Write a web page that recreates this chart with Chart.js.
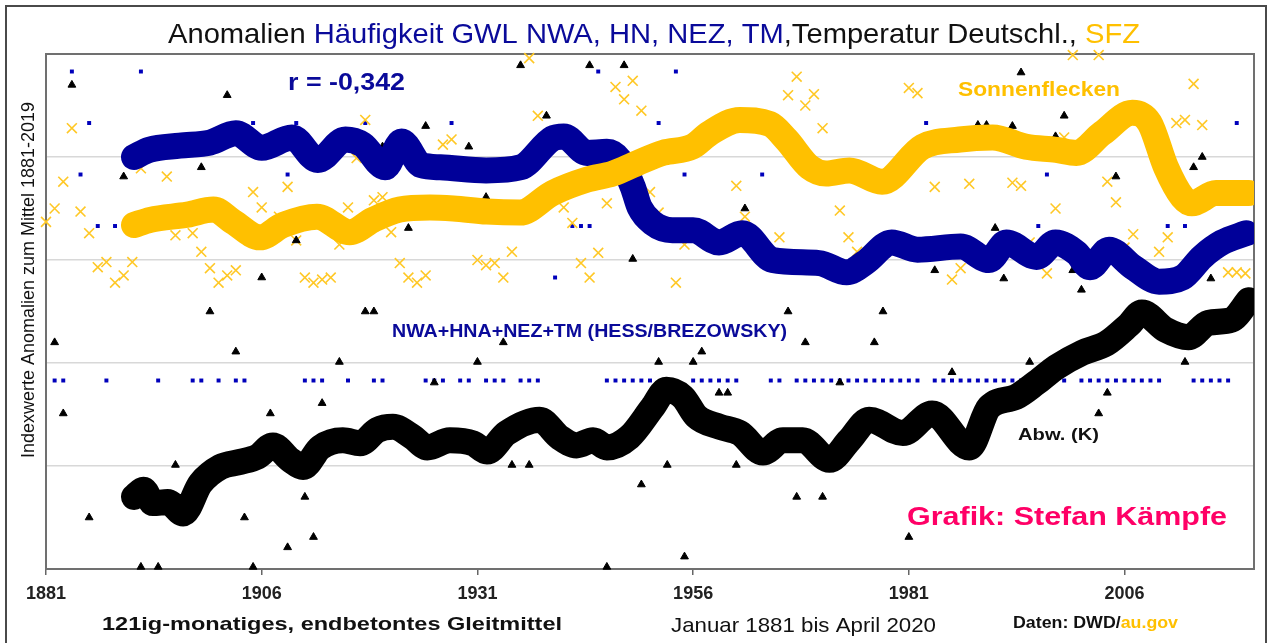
<!DOCTYPE html>
<html>
<head>
<meta charset="utf-8">
<title>Anomalien GWL, Temperatur, SFZ</title>
<script src="https://cdn.jsdelivr.net/npm/chart.js@4.4.1/dist/chart.umd.min.js"></script>
<style>
  html, body { margin: 0; padding: 0; background: #fff; }
</style>
</head>
<body>
<canvas id="grafik" width="1281" height="643"></canvas>
<script>
const schrift = '"Liberation Sans", Arial, sans-serif';

// x-Achse: Jahre
const tickJahre = [1881, 1906, 1931, 1956, 1981, 2006];

// 121-monatiges Gleitmittel Haeufigkeit NWA+HNA+NEZ+TM (blau)
const gwlMittelJahr = [1891.2, 1893, 1896.5, 1900, 1903, 1906, 1909.5, 1912.5, 1915.7, 1917.7, 1920.3, 1922.2, 1924.5, 1926.7, 1932, 1936, 1939.7, 1941, 1943.7, 1946, 1947.5, 1949, 1949.8, 1951.3, 1953.6, 1956, 1959, 1961.7, 1965.2, 1970.6, 1973.8, 1976, 1979, 1982, 1987, 1990.3, 1992.3, 1995.8, 1998, 2000.4, 2002, 2004.2, 2007, 2010, 2012.7, 2015, 2017.3, 2020.1];
const gwlMittel = [2.00, 2.07, 2.11, 2.14, 2.23, 2.09, 2.19, 1.97, 2.17, 2.12, 1.90, 2.15, 1.92, 1.90, 1.87, 1.90, 2.18, 2.20, 2.04, 2.05, 1.97, 1.71, 1.51, 1.36, 1.29, 1.29, 1.17, 1.26, 1.00, 0.97, 0.88, 0.98, 1.17, 1.10, 1.13, 1.00, 1.17, 1.03, 1.17, 1.07, 0.93, 1.10, 0.93, 0.79, 0.83, 1.03, 1.17, 1.26];

// 121-monatiges Gleitmittel Sonnenfleckenzahl (orange)
const sfzMittelJahr = [1891.2, 1893.1, 1897.4, 1900.4, 1902.7, 1905.8, 1908.5, 1912.4, 1916.2, 1918.9, 1922, 1925.5, 1928.2, 1932.1, 1935.9, 1939.7, 1943.7, 1946.7, 1949.5, 1952.5, 1955.9, 1957.9, 1961.4, 1964.9, 1966.8, 1969.5, 1971.4, 1974.1, 1977.9, 1982.6, 1986.9, 1990.7, 1994.6, 1998.1, 2000.4, 2003.4, 2006.9, 2008.9, 2010.8, 2012.7, 2013.8, 2016.6, 2020.4];
const sfzMittel = [1.34, 1.39, 1.44, 1.49, 1.37, 1.22, 1.34, 1.42, 1.27, 1.39, 1.49, 1.51, 1.50, 1.47, 1.46, 1.65, 1.78, 1.84, 1.94, 2.04, 2.10, 2.23, 2.36, 2.32, 2.17, 1.90, 1.84, 1.87, 1.76, 2.10, 2.17, 2.19, 2.10, 2.07, 2.04, 2.23, 2.43, 2.33, 1.90, 1.61, 1.55, 1.65, 1.65];

// 121-monatiges Gleitmittel Temperaturabweichung Deutschland (schwarz)
const tempMittelJahr = [1891.2, 1892.3, 1893.4, 1895.1, 1896.9, 1898.9, 1901.2, 1903.5, 1905.5, 1907.3, 1909.3, 1910.8, 1912.8, 1915.4, 1917.4, 1919.4, 1921.2, 1923.5, 1925.2, 1927.8, 1930.5, 1932.1, 1934.4, 1938.2, 1940.5, 1942.5, 1944.4, 1946, 1948.6, 1951.3, 1952.9, 1954.8, 1956.4, 1959.1, 1961.4, 1964.1, 1966.4, 1968.7, 1971.8, 1974.1, 1976.4, 1980.3, 1983.7, 1988, 1990.3, 1993.4, 1995.8, 1998.1, 2001.1, 2003.9, 2006.5, 2008, 2010.8, 2013.4, 2015.7, 2018.4, 2020.4];
const tempMittel = [-1.30, -1.23, -1.36, -1.35, -1.46, -1.17, -1.01, -0.96, -0.91, -0.80, -0.94, -1.01, -0.82, -0.75, -0.78, -0.65, -0.62, -0.72, -0.82, -0.75, -0.78, -0.86, -0.68, -0.55, -0.72, -0.80, -0.75, -0.82, -0.72, -0.43, -0.26, -0.33, -0.52, -0.62, -0.68, -0.87, -0.75, -0.75, -0.94, -0.75, -0.55, -0.68, -0.49, -0.82, -0.43, -0.33, -0.19, -0.04, 0.10, 0.19, 0.37, 0.49, 0.32, 0.25, 0.39, 0.42, 0.61];

// Jahreswerte Haeufigkeit GWL (blaue Punkte)
const gwlJahr = [1882, 1883, 1884, 1885, 1886, 1887, 1888, 1889, 1892, 1894, 1898, 1899, 1901, 1903, 1904, 1905, 1909, 1910, 1911, 1912, 1913, 1916, 1918, 1919, 1920, 1925, 1926, 1927, 1928, 1929, 1930, 1932, 1933, 1934, 1936, 1937, 1938, 1940, 1942, 1943, 1944, 1945, 1946, 1947, 1948, 1949, 1950, 1951, 1952, 1954, 1955, 1956, 1957, 1958, 1959, 1960, 1961, 1964, 1965, 1966, 1968, 1969, 1970, 1971, 1972, 1973, 1974, 1975, 1976, 1977, 1978, 1979, 1980, 1981, 1982, 1983, 1984, 1985, 1986, 1987, 1988, 1989, 1990, 1991, 1992, 1993, 1994, 1996, 1997, 1999, 2001, 2002, 2003, 2004, 2005, 2006, 2007, 2008, 2009, 2010, 2011, 2013, 2014, 2015, 2016, 2017, 2018, 2019];
const gwlWert = [-0.17, -0.17, 2.83, 1.83, 2.33, 1.33, -0.17, 1.33, 2.83, -0.17, -0.17, -0.17, -0.17, -0.17, -0.17, 2.33, 1.83, 2.33, -0.17, -0.17, -0.17, -0.17, 2.33, -0.17, -0.17, -0.17, -0.17, -0.17, 2.33, -0.17, -0.17, -0.17, -0.17, -0.17, -0.17, -0.17, -0.17, 0.83, 1.33, 1.33, 1.33, 2.83, -0.17, -0.17, -0.17, -0.17, -0.17, -0.17, 2.33, 2.83, 1.83, -0.17, -0.17, -0.17, -0.17, -0.17, -0.17, 1.83, -0.17, -0.17, -0.17, -0.17, -0.17, -0.17, -0.17, -0.17, -0.17, -0.17, -0.17, -0.17, -0.17, -0.17, -0.17, -0.17, -0.17, 2.33, -0.17, -0.17, -0.17, -0.17, -0.17, -0.17, -0.17, -0.17, -0.17, -0.17, -0.17, 1.33, 1.83, -0.17, -0.17, -0.17, -0.17, -0.17, -0.17, -0.17, -0.17, -0.17, -0.17, -0.17, 1.33, 1.33, -0.17, -0.17, -0.17, -0.17, -0.17, 2.33];

// Jahreswerte Sonnenflecken (orange Kreuze)
const sfzJahr = [1881, 1882, 1883, 1884, 1885, 1886, 1887, 1888, 1889, 1890, 1891, 1892, 1895, 1896, 1898, 1899, 1900, 1901, 1902, 1903, 1905, 1906, 1908, 1909, 1910, 1911, 1912, 1913, 1914, 1915, 1916, 1917, 1918, 1919, 1920, 1921, 1922, 1923, 1924, 1925, 1927, 1928, 1931, 1932, 1933, 1934, 1935, 1937, 1938, 1941, 1942, 1943, 1944, 1945, 1946, 1947, 1948, 1949, 1950, 1951, 1952, 1954, 1955, 1961, 1962, 1966, 1967, 1968, 1969, 1970, 1971, 1973, 1974, 1975, 1981, 1982, 1984, 1986, 1987, 1988, 1993, 1994, 1995, 1997, 1998, 1999, 2000, 2003, 2004, 2005, 2006, 2007, 2010, 2011, 2012, 2013, 2014, 2015, 2018, 2019, 2020];
const sfzWert = [1.37, 1.50, 1.76, 2.28, 1.47, 1.26, 0.93, 0.98, 0.78, 0.85, 0.98, 1.89, 1.81, 1.24, 1.26, 1.08, 0.92, 0.78, 0.85, 0.90, 1.66, 1.51, 1.42, 1.71, 1.19, 0.83, 0.78, 0.81, 0.83, 1.15, 1.51, 1.99, 2.36, 1.58, 1.61, 1.27, 0.97, 0.83, 0.78, 0.85, 2.12, 2.17, 1.00, 0.95, 0.97, 0.83, 1.08, 2.96, 2.40, 1.51, 1.36, 0.97, 0.83, 1.07, 1.55, 2.68, 2.56, 2.74, 2.45, 1.66, 1.46, 0.78, 1.15, 1.72, 1.42, 1.22, 2.60, 2.78, 2.50, 2.61, 2.28, 1.48, 1.22, 1.08, 2.67, 2.62, 1.71, 0.81, 0.92, 1.74, 1.75, 1.72, 1.17, 0.87, 1.50, 2.19, 2.99, 2.99, 1.76, 1.56, 1.12, 1.25, 1.08, 1.22, 2.33, 2.36, 2.71, 2.31, 0.88, 0.88, 0.87];

// Jahreswerte Temperaturabweichung (schwarze Dreiecke)
const tempJahr = [1882, 1883, 1884, 1886, 1890, 1892, 1894, 1896, 1899, 1900, 1902, 1903, 1904, 1905, 1906, 1907, 1909, 1910, 1911, 1912, 1913, 1915, 1918, 1919, 1920, 1923, 1925, 1926, 1930, 1931, 1932, 1934, 1935, 1936, 1937, 1939, 1944, 1946, 1948, 1949, 1950, 1952, 1953, 1955, 1956, 1957, 1959, 1960, 1961, 1962, 1967, 1968, 1969, 1971, 1973, 1977, 1978, 1981, 1984, 1986, 1989, 1990, 1991, 1992, 1993, 1994, 1995, 1998, 1999, 2000, 2001, 2003, 2004, 2005, 2013, 2014, 2015, 2016];
const tempWert = [0.20, -0.49, 2.70, -1.50, 1.81, -1.98, -1.98, -0.99, 1.90, 0.50, 2.60, 0.11, -1.50, -1.98, 0.83, -0.49, -1.79, 1.19, -1.30, -1.69, -0.39, 0.01, 0.50, 0.50, 2.10, 1.31, 2.30, -0.19, 2.10, 0.01, 1.61, 0.20, -0.99, 2.89, -0.99, 2.40, 2.89, -1.98, 2.89, 1.01, -1.18, 0.01, -0.99, -1.88, 0.01, 0.11, -0.29, -0.29, -0.99, 1.50, 0.50, -1.30, 0.20, -1.30, -0.19, 0.20, 0.50, -1.69, 0.90, -0.09, 2.31, 2.31, 1.31, 0.82, 2.30, 2.82, 0.01, 2.20, 2.40, 0.90, 0.71, -0.49, -0.29, 1.81, 0.01, 1.90, 2.00, 0.82];

const punkte = (xs, ys) => xs.map((x, i) => ({ x: x, y: ys[i] }));

// Text mit horizontaler Streckung auf eine Zielbreite
function schreibe(ctx, text, x, y, font, farbe, breite) {
  ctx.save();
  ctx.font = font;
  ctx.fillStyle = farbe;
  ctx.textBaseline = 'alphabetic';
  ctx.textAlign = 'left';
  const w = ctx.measureText(text).width;
  ctx.translate(x, y);
  if (breite) ctx.scale(breite / w, 1);
  ctx.fillText(text, 0, 0);
  ctx.restore();
}

const rahmen = {
  id: 'rahmen',
  beforeDatasetsDraw(chart) {
    const { ctx, chartArea: a } = chart;
    ctx.save();
    ctx.strokeStyle = '#707070';
    ctx.lineWidth = 2;
    ctx.strokeRect(a.left, a.top, a.right - a.left, a.bottom - a.top);
    ctx.restore();
  },
  afterDraw(chart) {
    const ctx = chart.ctx;
    // aeusserer Rahmen
    ctx.save();
    ctx.strokeStyle = '#4a4a4a';
    ctx.lineWidth = 2;
    ctx.beginPath();
    ctx.moveTo(6, 643); ctx.lineTo(6, 6); ctx.lineTo(1266, 6); ctx.lineTo(1266, 643);
    ctx.stroke();
    ctx.restore();

    // Titel in Teilen
    const tf = '28px ' + schrift;
    const teile = [
      ['Anomalien ', '#111'],
      ['Häufigkeit GWL NWA, HN, NEZ, TM', '#0a0a9a'],
      [',Temperatur Deutschl., ', '#111'],
      ['SFZ', '#FFC000']
    ];
    ctx.font = tf;
    const gesamt = teile.reduce((s, t) => s + ctx.measureText(t[0]).width, 0);
    const f = 972 / gesamt;
    let x = 168;
    teile.forEach(t => {
      const w = ctx.measureText(t[0]).width * f;
      schreibe(ctx, t[0], x, 43, tf, t[1], w);
      ctx.font = tf;
      x += w;
    });

    schreibe(ctx, 'r = -0,342', 288, 90, 'bold 24px ' + schrift, '#0a0a9a', 117);
    schreibe(ctx, 'Sonnenflecken', 958, 96, 'bold 20px ' + schrift, '#FFC000', 162);
    schreibe(ctx, 'NWA+HNA+NEZ+TM (HESS/BREZOWSKY)', 392, 337, 'bold 18px ' + schrift, '#0a0a9a', 395);
    schreibe(ctx, 'Abw. (K)', 1018, 440, 'bold 16px ' + schrift, '#111', 81);
    schreibe(ctx, 'Grafik: Stefan Kämpfe', 907, 525, 'bold 25px ' + schrift, '#FF0066', 320);

    schreibe(ctx, '121ig-monatiges, endbetontes Gleitmittel', 102, 630, 'bold 19px ' + schrift, '#111', 460);
    schreibe(ctx, 'Januar 1881 bis April 2020', 671, 632, '21px ' + schrift, '#111', 265);
    ctx.font = 'bold 16px ' + schrift;
    const wd = ctx.measureText('Daten: DWD/').width;
    const wa = ctx.measureText('au.gov').width;
    const fd = 165 / (wd + wa);
    schreibe(ctx, 'Daten: DWD/', 1013, 628, 'bold 16px ' + schrift, '#111', wd * fd);
    schreibe(ctx, 'au.gov', 1013 + wd * fd, 628, 'bold 16px ' + schrift, '#FFC000', wa * fd);

    // y-Achsentitel
    ctx.save();
    ctx.translate(34, 280);
    ctx.rotate(-Math.PI / 2);
    ctx.font = '18px ' + schrift;
    ctx.fillStyle = '#111';
    ctx.textAlign = 'center';
    ctx.textBaseline = 'alphabetic';
    ctx.fillText('Indexwerte Anomalien zum Mittel 1881-2019', 0, 0);
    ctx.restore();
  }
};

const linie = (daten, farbe) => ({
  data: daten,
  showLine: true,
  borderColor: farbe,
  backgroundColor: farbe,
  borderWidth: 26,
  pointRadius: 0,
  cubicInterpolationMode: 'monotone',
  borderCapStyle: 'round',
  borderJoinStyle: 'round',
  clip: 0
});

new Chart(document.getElementById('grafik'), {
  type: 'scatter',
  data: {
    datasets: [
      linie(punkte(sfzMittelJahr, sfzMittel), '#FFC000'),
      linie(punkte(gwlMittelJahr, gwlMittel), '#000099'),
      linie(punkte(tempMittelJahr, tempMittel), '#000000'),
      {
        data: punkte(tempJahr, tempWert),
        pointStyle: 'triangle',
        pointRadius: 4.5,
        backgroundColor: '#000',
        borderColor: '#000',
        borderWidth: 1,
        clip: 10
      },
      {
        data: punkte(sfzJahr, sfzWert),
        pointStyle: 'crossRot',
        pointRadius: 7,
        borderColor: '#FFC826',
        borderWidth: 1.6,
        clip: 10
      },
      {
        data: punkte(gwlJahr, gwlWert),
        pointStyle: 'rect',
        pointRadius: 2.8,
        backgroundColor: '#0000BB',
        borderWidth: 0,
        clip: 10
      }
    ]
  },
  options: {
    responsive: false,
    animation: false,
    layout: { padding: { left: 46, top: 54, right: 27, bottom: 0 } },
    plugins: { legend: { display: false }, tooltip: { enabled: false } },
    scales: {
      x: {
        type: 'linear',
        min: 1881,
        max: 2021,
        afterBuildTicks: s => { s.ticks = tickJahre.map(v => ({ value: v })); },
        afterFit: s => { s.height = 74; },
        ticks: {
          font: { family: schrift, size: 18, weight: 'bold' },
          color: '#222',
          padding: 8,
          maxRotation: 0,
          callback: v => String(v)
        },
        grid: { drawOnChartArea: false, drawTicks: true, tickLength: 6, color: '#666', lineWidth: 1.5 },
        border: { display: false }
      },
      y: {
        min: -2,
        max: 3,
        afterFit: s => { s.width = 0; },
        ticks: { display: false, stepSize: 1 },
        grid: {
          color: c => (c.tick && c.tick.value > -2 && c.tick.value < 3) ? '#d8d8d8' : 'rgba(0,0,0,0)',
          drawTicks: false,
          lineWidth: 1.5
        },
        border: { display: false }
      }
    }
  },
  plugins: [rahmen]
});
</script>
</body>
</html>
